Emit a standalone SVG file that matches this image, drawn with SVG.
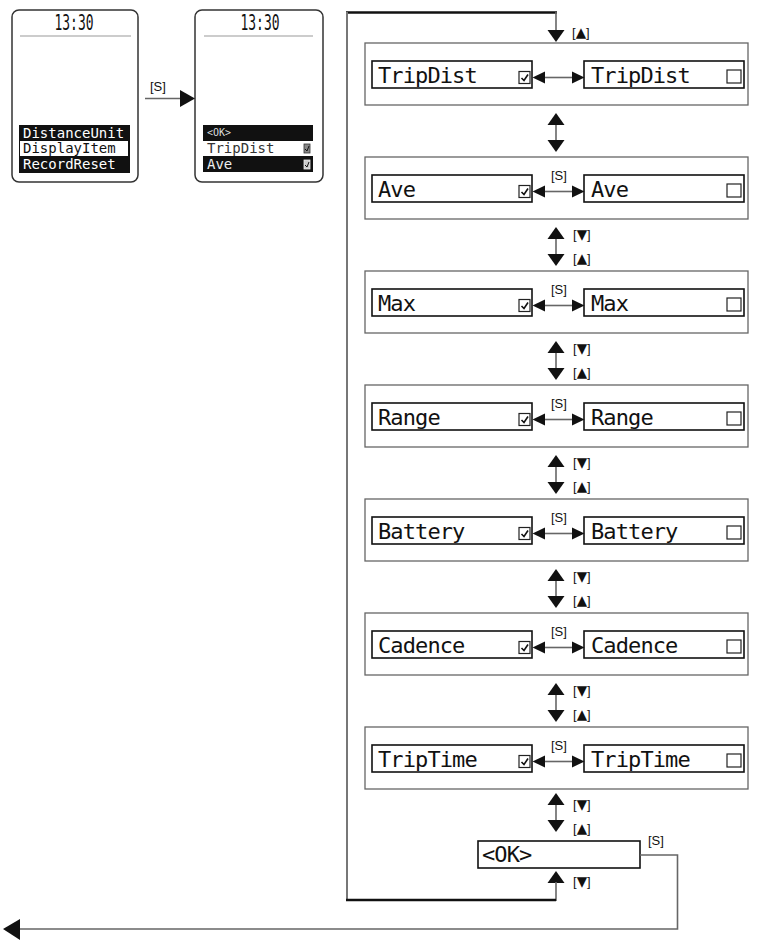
<svg xmlns="http://www.w3.org/2000/svg" width="757" height="944" viewBox="0 0 757 944">
<style>
.lcd{font-family:"DejaVu Sans Mono","Liberation Mono",monospace;font-size:22px;letter-spacing:-0.9px;fill:#111}
.sm{font-family:"DejaVu Sans Mono","Liberation Mono",monospace;font-size:14px}
.lbl{font-family:"Liberation Sans",Arial,sans-serif;font-size:13px;fill:#111}
.tri{font-family:"DejaVu Sans",sans-serif;font-size:13.5px}
.grp{fill:#fff;stroke:#666;stroke-width:1.3}
.inner{fill:#fff;stroke:#111;stroke-width:1.6}
.cb{fill:#fff;stroke:#222;stroke-width:1.2}
.ln{fill:none;stroke:#666;stroke-width:1.6}
.thick{fill:none;stroke:#111;stroke-width:2.6}
.ah{fill:#111}
.scr{fill:#fff;stroke:#333;stroke-width:1.5}
.sep{stroke:#999;stroke-width:1}
.time{font-family:"DejaVu Sans Mono",monospace;font-size:21px;fill:#111}
</style>
<defs>
<g id="upA"><polygon points="0,0 8.5,12 -8.5,12" class="ah"/></g>
<g id="dnA"><polygon points="-8.5,0 8.5,0 0,12" class="ah"/></g>
<g id="chk"><rect x="0" y="0" width="11" height="12" class="cb"/><polyline points="2.5,6.5 5,9 9,3" fill="none" stroke="#111" stroke-width="1.6"/></g>
<g id="sarrow">
<line x1="545" y1="0" x2="572" y2="0" class="ln"/>
<polygon points="532.5,0 545,-6 545,6" class="ah"/>
<polygon points="584.5,0 572,-6 572,6" class="ah"/>
</g>
</defs>

<!-- Screen 1 -->
<g id="screen1">
<rect x="12" y="10" width="126" height="172" rx="7" class="scr"/>
<text x="74" y="30" text-anchor="middle" class="time" textLength="39" lengthAdjust="spacingAndGlyphs">13:30</text>
<line x1="20" y1="36" x2="131" y2="36" class="sep"/>
<rect x="19" y="125" width="111" height="48" fill="#111"/>
<rect x="20" y="141" width="108" height="15" fill="#fff"/>
<text x="23" y="137.5" class="sm" fill="#fff">DistanceUnit</text>
<text x="23" y="152.5" class="sm" fill="#111">DisplayItem</text>
<text x="23" y="168.5" class="sm" fill="#fff">RecordReset</text>
</g>

<!-- Screen 2 -->
<g id="screen2">
<rect x="195" y="10" width="128" height="172" rx="7" class="scr"/>
<text x="260" y="30" text-anchor="middle" class="time" textLength="39" lengthAdjust="spacingAndGlyphs">13:30</text>
<line x1="204" y1="36" x2="313" y2="36" class="sep"/>
<rect x="203" y="125" width="110" height="47" fill="#111"/>
<rect x="203" y="141" width="110" height="15" fill="#fff"/>
<text x="207" y="136" font-family="DejaVu Sans Mono,monospace" font-size="10" fill="#ddd">&lt;OK&gt;</text>
<text x="207" y="152.5" class="sm" fill="#333">TripDist</text>
<rect x="304" y="144" width="6" height="9" fill="#888" stroke="#333" stroke-width="0.8"/>
<polyline points="305,149 307,151 309,146" fill="none" stroke="#111" stroke-width="1"/>
<text x="207" y="168.5" class="sm" fill="#eee">Ave</text>
<rect x="304" y="160" width="6" height="9" fill="#ccc" stroke="#eee" stroke-width="0.8"/>
<polyline points="305,165 307,167 309,162" fill="none" stroke="#111" stroke-width="1"/>
</g>

<!-- Groups -->
<g id="g-tripdist">
<rect x="365" y="43" width="383" height="62" class="grp"/>
<rect x="372" y="61" width="160" height="27" class="inner"/>
<rect x="584" y="61" width="160" height="27" class="inner"/>
<text x="378" y="83" class="lcd">TripDist</text>
<text x="591" y="83" class="lcd">TripDist</text>
<use href="#chk" x="519" y="71.5"/>
<rect x="727" y="70" width="14" height="13" class="cb"/>
</g>
<g id="g-ave">
<rect x="365" y="157" width="383" height="62" class="grp"/>
<rect x="372" y="175" width="160" height="27" class="inner"/>
<rect x="584" y="175" width="160" height="27" class="inner"/>
<text x="378" y="197" class="lcd">Ave</text>
<text x="591" y="197" class="lcd">Ave</text>
<use href="#chk" x="519" y="185.5"/>
<rect x="727" y="184" width="14" height="13" class="cb"/>
</g>
<g id="g-max">
<rect x="365" y="271" width="383" height="62" class="grp"/>
<rect x="372" y="289" width="160" height="27" class="inner"/>
<rect x="584" y="289" width="160" height="27" class="inner"/>
<text x="378" y="311" class="lcd">Max</text>
<text x="591" y="311" class="lcd">Max</text>
<use href="#chk" x="519" y="299.5"/>
<rect x="727" y="298" width="14" height="13" class="cb"/>
</g>
<g id="g-range">
<rect x="365" y="385" width="383" height="62" class="grp"/>
<rect x="372" y="403" width="160" height="27" class="inner"/>
<rect x="584" y="403" width="160" height="27" class="inner"/>
<text x="378" y="425" class="lcd">Range</text>
<text x="591" y="425" class="lcd">Range</text>
<use href="#chk" x="519" y="413.5"/>
<rect x="727" y="412" width="14" height="13" class="cb"/>
</g>
<g id="g-battery">
<rect x="365" y="499" width="383" height="62" class="grp"/>
<rect x="372" y="517" width="160" height="27" class="inner"/>
<rect x="584" y="517" width="160" height="27" class="inner"/>
<text x="378" y="539" class="lcd">Battery</text>
<text x="591" y="539" class="lcd">Battery</text>
<use href="#chk" x="519" y="527.5"/>
<rect x="727" y="526" width="14" height="13" class="cb"/>
</g>
<g id="g-cadence">
<rect x="365" y="613" width="383" height="62" class="grp"/>
<rect x="372" y="631" width="160" height="27" class="inner"/>
<rect x="584" y="631" width="160" height="27" class="inner"/>
<text x="378" y="653" class="lcd">Cadence</text>
<text x="591" y="653" class="lcd">Cadence</text>
<use href="#chk" x="519" y="641.5"/>
<rect x="727" y="640" width="14" height="13" class="cb"/>
</g>
<g id="g-triptime">
<rect x="365" y="727" width="383" height="62" class="grp"/>
<rect x="372" y="745" width="160" height="27" class="inner"/>
<rect x="584" y="745" width="160" height="27" class="inner"/>
<text x="378" y="767" class="lcd">TripTime</text>
<text x="591" y="767" class="lcd">TripTime</text>
<use href="#chk" x="519" y="755.5"/>
<rect x="727" y="754" width="14" height="13" class="cb"/>
</g>
<g id="ok">
<rect x="478" y="841" width="162" height="27" class="inner"/>
<text x="482" y="862" class="lcd">&lt;OK&gt;</text>
</g>

<!-- Connectors -->
<g id="connectors">
<!-- screen1 -> screen2 -->
<line x1="145" y1="98.5" x2="181" y2="98.5" class="ln"/>
<polygon points="195,98.5 180,90 180,107" class="ah"/>
<text x="150" y="91" class="lbl">[S]</text>

<!-- horizontal toggles -->
<use href="#sarrow" y="77.5"/>
<use href="#sarrow" y="191.5"/>
<use href="#sarrow" y="305.5"/>
<use href="#sarrow" y="419.5"/>
<use href="#sarrow" y="533.5"/>
<use href="#sarrow" y="647.5"/>
<use href="#sarrow" y="761.5"/>
<text x="551" y="180" class="lbl">[S]</text>
<text x="551" y="294" class="lbl">[S]</text>
<text x="551" y="408" class="lbl">[S]</text>
<text x="551" y="522" class="lbl">[S]</text>
<text x="551" y="636" class="lbl">[S]</text>
<text x="551" y="750" class="lbl">[S]</text>

<!-- top loop -->
<line x1="346" y1="12.5" x2="557" y2="12.5" class="thick"/>
<line x1="347" y1="12" x2="347" y2="900" stroke="#777" stroke-width="2"/>
<line x1="556" y1="12" x2="556" y2="31" class="ln"/>
<use href="#dnA" x="556" y="30"/>
<text x="572" y="37" class="lbl">[<tspan class="tri">▲</tspan>]</text>

<!-- vertical between groups -->
<line x1="556" y1="124" x2="556" y2="141" class="ln"/>
<use href="#upA" x="556" y="113"/>
<use href="#dnA" x="556" y="140"/>

<line x1="556" y1="238" x2="556" y2="255" class="ln"/>
<use href="#upA" x="556" y="227"/>
<use href="#dnA" x="556" y="254"/>
<text x="573" y="239" class="lbl">[<tspan class="tri">▼</tspan>]</text>
<text x="573" y="263" class="lbl">[<tspan class="tri">▲</tspan>]</text>

<line x1="556" y1="352" x2="556" y2="369" class="ln"/>
<use href="#upA" x="556" y="341"/>
<use href="#dnA" x="556" y="368"/>
<text x="573" y="353" class="lbl">[<tspan class="tri">▼</tspan>]</text>
<text x="573" y="377" class="lbl">[<tspan class="tri">▲</tspan>]</text>

<line x1="556" y1="466" x2="556" y2="483" class="ln"/>
<use href="#upA" x="556" y="455"/>
<use href="#dnA" x="556" y="482"/>
<text x="573" y="467" class="lbl">[<tspan class="tri">▼</tspan>]</text>
<text x="573" y="491" class="lbl">[<tspan class="tri">▲</tspan>]</text>

<line x1="556" y1="580" x2="556" y2="597" class="ln"/>
<use href="#upA" x="556" y="569"/>
<use href="#dnA" x="556" y="596"/>
<text x="573" y="581" class="lbl">[<tspan class="tri">▼</tspan>]</text>
<text x="573" y="605" class="lbl">[<tspan class="tri">▲</tspan>]</text>

<line x1="556" y1="694" x2="556" y2="711" class="ln"/>
<use href="#upA" x="556" y="683"/>
<use href="#dnA" x="556" y="710"/>
<text x="573" y="695" class="lbl">[<tspan class="tri">▼</tspan>]</text>
<text x="573" y="719" class="lbl">[<tspan class="tri">▲</tspan>]</text>

<line x1="556" y1="804" x2="556" y2="821" class="ln"/>
<use href="#upA" x="556" y="793"/>
<use href="#dnA" x="556" y="820"/>
<text x="573" y="809" class="lbl">[<tspan class="tri">▼</tspan>]</text>
<text x="573" y="833" class="lbl">[<tspan class="tri">▲</tspan>]</text>

<!-- below OK -->
<use href="#upA" x="556" y="871"/>
<line x1="556" y1="882" x2="556" y2="901" class="ln"/>
<line x1="346" y1="900" x2="556" y2="900" class="thick"/>
<text x="573" y="886" class="lbl">[<tspan class="tri">▼</tspan>]</text>

<!-- OK exit -->
<polyline points="640,855 677.5,855 677.5,929 19,929" class="ln"/>
<polygon points="3,929 20,919 20,940" class="ah"/>
<text x="648" y="845" class="lbl">[S]</text>
</g>
</svg>
